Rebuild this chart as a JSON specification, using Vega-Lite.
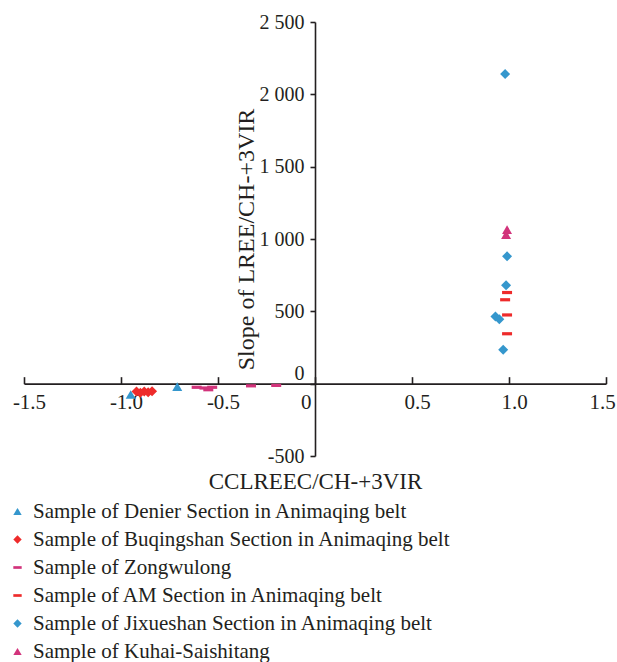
{
  "$schema": "https://vega.github.io/schema/vega-lite/v6.json",
  "width": 582,
  "height": 434,
  "autosize": {"type": "none"},
  "padding": {"left": 24, "top": 22, "right": 11, "bottom": 206},
  "background": "white",
  "config": {
    "view": {"stroke": null},
    "font": "Liberation Serif",
    "style": {"guide-label": {"font": "Liberation Serif"}, "guide-title": {"font": "Liberation Serif"}},
    "axis": {"grid": false, "domainColor": "#231F20", "domainWidth": 1.6, "tickColor": "#231F20", "tickWidth": 1.6, "labelColor": "#231F20", "titleColor": "#231F20", "labelFont": "Liberation Serif", "titleFont": "Liberation Serif", "labelFontSize": 20, "titleFontSize": 23, "titleFontWeight": "normal"},
    "legend": {"labelFont": "Liberation Serif", "labelFontSize": 21, "labelColor": "#231F20"}
  },
  "data": {
    "values": [
      {"series": "Sample of Denier Section in Animaqing belt", "x": -0.95, "y": -75},
      {"series": "Sample of Denier Section in Animaqing belt", "x": -0.71, "y": -20},
      {"series": "Sample of Buqingshan Section in Animaqing belt", "x": -0.92, "y": -55},
      {"series": "Sample of Buqingshan Section in Animaqing belt", "x": -0.90, "y": -62},
      {"series": "Sample of Buqingshan Section in Animaqing belt", "x": -0.88, "y": -55},
      {"series": "Sample of Buqingshan Section in Animaqing belt", "x": -0.86, "y": -60},
      {"series": "Sample of Buqingshan Section in Animaqing belt", "x": -0.84, "y": -52},
      {"series": "Sample of Zongwulong", "x": -0.61, "y": -25},
      {"series": "Sample of Zongwulong", "x": -0.57, "y": -30},
      {"series": "Sample of Zongwulong", "x": -0.55, "y": -42},
      {"series": "Sample of Zongwulong", "x": -0.53, "y": -25},
      {"series": "Sample of Zongwulong", "x": -0.33, "y": -15},
      {"series": "Sample of Zongwulong", "x": -0.20, "y": -12},
      {"series": "Sample of AM Section in Animaqing belt", "x": 0.99, "y": 630},
      {"series": "Sample of AM Section in Animaqing belt", "x": 0.98, "y": 580},
      {"series": "Sample of AM Section in Animaqing belt", "x": 0.99, "y": 475},
      {"series": "Sample of AM Section in Animaqing belt", "x": 0.99, "y": 345},
      {"series": "Sample of Jixueshan Section in Animaqing belt", "x": 0.98, "y": 2140},
      {"series": "Sample of Jixueshan Section in Animaqing belt", "x": 0.99, "y": 880},
      {"series": "Sample of Jixueshan Section in Animaqing belt", "x": 0.985, "y": 680},
      {"series": "Sample of Jixueshan Section in Animaqing belt", "x": 0.93, "y": 465},
      {"series": "Sample of Jixueshan Section in Animaqing belt", "x": 0.95, "y": 445},
      {"series": "Sample of Jixueshan Section in Animaqing belt", "x": 0.97, "y": 235},
      {"series": "Sample of Kuhai-Saishitang", "x": 0.99, "y": 1065},
      {"series": "Sample of Kuhai-Saishitang", "x": 0.985, "y": 1030}
    ]
  },
  "mark": {"type": "point", "filled": true, "size": 100, "opacity": 1, "strokeWidth": 0},
  "encoding": {
    "x": {
      "field": "x", "type": "quantitative",
      "scale": {"domain": [-1.5, 1.5], "nice": false, "zero": false},
      "axis": {
        "orient": "bottom", "offset": -72.33, "title": "CCLREEC/CH-+3VIR",
        "values": [-1.5, -1, -0.5, 0, 0.5, 1, 1.5],
        "tickSize": -7, "labelPadding": 15, "titlePadding": 58, "labelFontSize": 21,
        "labelExpr": "datum.value === 0 ? '0' : replace(format(datum.value, '.1f'), '\u2212', '-')",
        "labelAlign": {"condition": {"test": "datum.value === 0", "value": "right"}, "value": "center"},
        "labelOffset": {"condition": {"test": "datum.value === 0 || datum.value === 1.5", "value": -4}, "value": 5},
        "labelFlush": false, "labelOverlap": false
      }
    },
    "y": {
      "field": "y", "type": "quantitative",
      "scale": {"domain": [-500, 2500], "nice": false, "zero": false},
      "axis": {
        "orient": "left", "offset": -291, "title": "Slope of LREE/CH-+3VIR",
        "values": [-500, 0, 500, 1000, 1500, 2000, 2500],
        "tickSize": 5, "labelPadding": 6, "titlePadding": 1, "titleFontSize": 24,
        "labelExpr": "replace(replace(format(datum.value, ','), ',', ' '), '\u2212', '-')",
        "labelBaseline": {"condition": {"test": "datum.value === 0", "value": "bottom"}, "value": "middle"},
        "labelFlush": false, "labelOverlap": false
      }
    },
    "color": {
      "field": "series", "type": "nominal",
      "scale": {
        "domain": ["Sample of Denier Section in Animaqing belt", "Sample of Buqingshan Section in Animaqing belt", "Sample of Zongwulong", "Sample of AM Section in Animaqing belt", "Sample of Jixueshan Section in Animaqing belt", "Sample of Kuhai-Saishitang"],
        "range": ["#3597CD", "#EE2B2B", "#D2337B", "#EE2B2B", "#3597CD", "#D2337B"]
      },
      "legend": {
        "orient": "none", "legendX": -17, "legendY": 479, "title": null,
        "direction": "vertical", "labelFont": "Liberation Serif", "labelFontSize": 21, "labelColor": "#231F20",
        "symbolSize": 70, "rowPadding": 6, "labelOffset": 5, "labelLimit": 600, "padding": 0
      }
    },
    "shape": {
      "field": "series", "type": "nominal",
      "scale": {
        "domain": ["Sample of Denier Section in Animaqing belt", "Sample of Buqingshan Section in Animaqing belt", "Sample of Zongwulong", "Sample of AM Section in Animaqing belt", "Sample of Jixueshan Section in Animaqing belt", "Sample of Kuhai-Saishitang"],
        "range": ["triangle-up", "diamond", "M-1,-0.32H1V0.32H-1Z", "M-1,-0.32H1V0.32H-1Z", "diamond", "triangle-up"]
      },
      "legend": {
        "orient": "none", "legendX": -17, "legendY": 479, "title": null,
        "direction": "vertical", "labelFont": "Liberation Serif", "labelFontSize": 21, "labelColor": "#231F20",
        "symbolSize": 70, "rowPadding": 6, "labelOffset": 5, "labelLimit": 600, "padding": 0
      }
    }
  }
}
